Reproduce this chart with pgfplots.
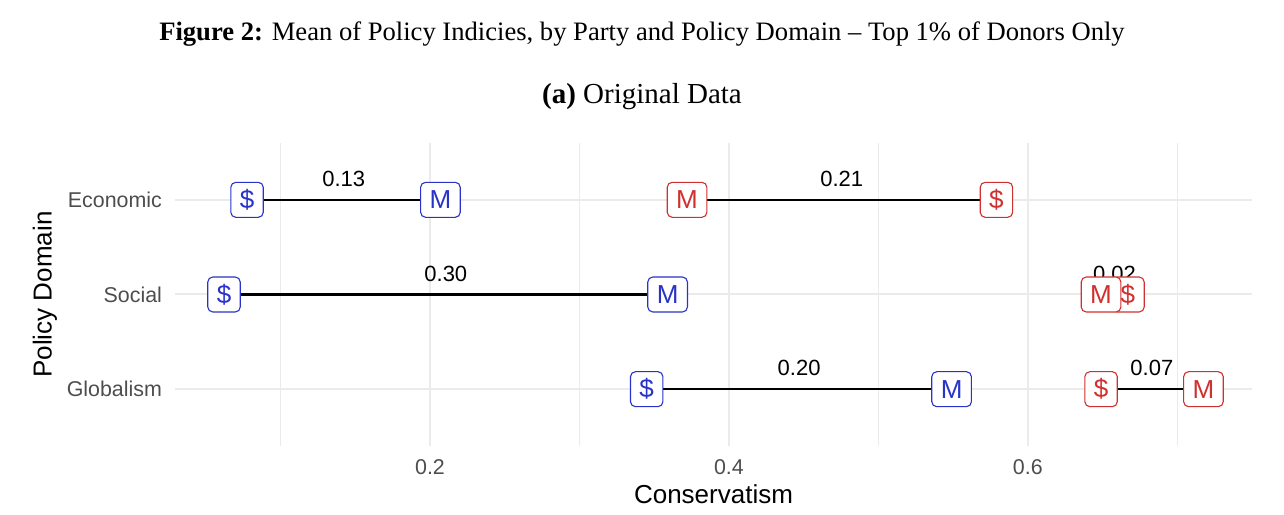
\documentclass[border=0pt]{standalone}
\usepackage{pgfplots}
\pgfplotsset{compat=1.18}
\usepackage{pgfplotstable}
\usepackage{fontspec}
\setmainfont{Liberation Serif}
\newfontfamily\sans{Liberation Sans}
\definecolor{demblue}{HTML}{2A33C9}
\definecolor{repred}{HTML}{D0302F}
\definecolor{gridc}{HTML}{EBEBEB}
\definecolor{tickc}{HTML}{4D4D4D}

\tikzset{boxstyle/.style={draw=#1, text=#1, fill=white, rounded corners=2.5pt, anchor=center,
  font=\sans\fontsize{13}{15}\selectfont, minimum height=17.5pt, inner xsep=4.5pt, line width=0.55pt}}

\pgfplotstableread{
y dmoney dmean rmean rmoney
3 0.0776 0.207 0.372 0.579
2 0.0622 0.359 0.649 0.667
1 0.345 0.549 0.7175 0.649
}\data

\pgfplotstableread{
x y lab
0.1423 3 0.13
0.4755 3 0.21
0.2106 2 0.30
0.658 2 0.02
0.447 1 0.20
0.683 1 0.07
}\diffs

\begin{document}
\begin{tikzpicture}
\useasboundingbox (0pt,0pt) rectangle (642pt,257pt);
\node at (321pt,240pt) {\fontsize{13.3}{15}\selectfont\textbf{Figure 2:} Mean of Policy Indicies, by Party and Policy Domain -- Top 1\% of Donors Only};
\node at (321pt,208.5pt) {\fontsize{14.5}{16}\selectfont\textbf{(a)} Original Data};
\begin{axis}[
  at={(87.5pt,34pt)}, anchor=south west,
  scale only axis, width=538.5pt, height=151.5pt,
  xmin=0.0294, xmax=0.75, ymin=0.4, ymax=3.6,
  axis line style={draw=none},
  major tick length=0pt, minor tick length=0pt,
  xtick={0.2,0.4,0.6}, minor xtick={0.1,0.3,0.5,0.7},
  ytick={1,2,3}, yticklabels={Globalism,Social,Economic},
  grid=both,
  major grid style={draw=gridc, line width=1pt},
  minor grid style={draw=gridc, line width=0.5pt},
  /pgf/number format/assume math mode=true,
  tick label style={font=\sans\fontsize{10.7}{12}\selectfont, text=tickc},
  yticklabel style={xshift=-3pt},
  xticklabel style={yshift=-3pt},
  xlabel={Conservatism}, ylabel={Policy Domain},
  label style={font=\sans\fontsize{13}{15}\selectfont, text=black},
  xlabel style={at={(axis description cs:0.5,-0.158)}, anchor=center},
  ylabel style={at={(axis description cs:-0.1207,0.5)}, anchor=center},
  clip=false,
]
% segments
\addplot[black, line width=1.25pt, mark=none] coordinates {(0.0776,3) (0.207,3)};
\addplot[black, line width=1.25pt, mark=none] coordinates {(0.372,3) (0.579,3)};
\addplot[black, line width=1.25pt, mark=none] coordinates {(0.0622,2) (0.359,2)};
\addplot[black, line width=1.25pt, mark=none] coordinates {(0.649,2) (0.667,2)};
\addplot[black, line width=1.25pt, mark=none] coordinates {(0.345,1) (0.549,1)};
\addplot[black, line width=1.25pt, mark=none] coordinates {(0.649,1) (0.7175,1)};
% difference labels
\addplot[draw=none, mark=none, nodes near coords, point meta=explicit symbolic,
  every node near coord/.style={font=\sans\fontsize{11}{13}\selectfont, text=black, anchor=center, yshift=10.5pt}]
  table[x=x, y=y, meta=lab] {\diffs};
% boxes
\addplot[draw=none, mark=none, nodes near coords={\$}, every node near coord/.style={boxstyle=demblue}] table[x=dmoney, y=y] {\data};
\addplot[draw=none, mark=none, nodes near coords={M}, every node near coord/.style={boxstyle=demblue}] table[x=dmean, y=y] {\data};
\addplot[draw=none, mark=none, nodes near coords={\$}, every node near coord/.style={boxstyle=repred}] table[x=rmoney, y=y] {\data};
\addplot[draw=none, mark=none, nodes near coords={M}, every node near coord/.style={boxstyle=repred}] table[x=rmean, y=y] {\data};
\end{axis}
\end{tikzpicture}
\end{document}
